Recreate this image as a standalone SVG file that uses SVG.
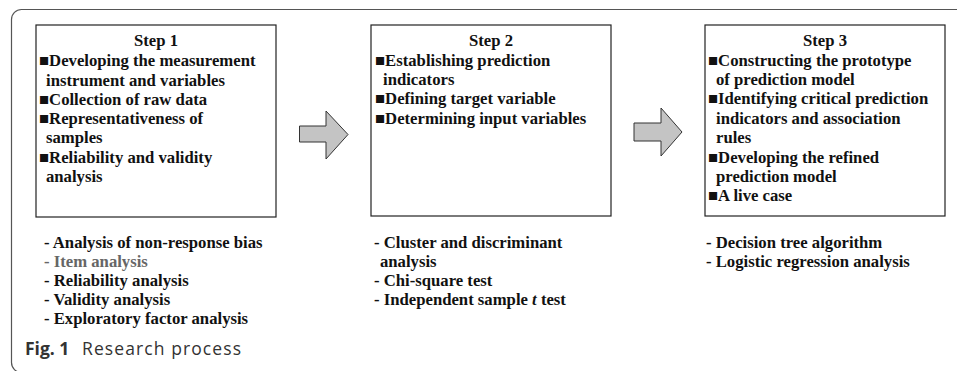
<svg xmlns="http://www.w3.org/2000/svg" width="957" height="371" viewBox="0 0 957 371">
<style>
.t{font-family:"Liberation Serif","Times New Roman",serif;font-weight:bold;font-size:16.7px;fill:#111}
.c{text-anchor:middle}
.g{fill:#666}
.box{fill:#fff;stroke:#222;stroke-width:1.2}
.arr{fill:#c4c4c4;stroke:#333;stroke-width:1}
.cap{font-family:"Open Sans","Noto Sans",sans-serif;font-size:17.5px;fill:#333}
</style>
<rect width="957" height="371" fill="#fff"/>
<rect x="11.5" y="9.5" width="1000" height="363" rx="10" fill="none" stroke="#555" stroke-width="1.2"/>
<g id="connectors">
<path class="arr" d="M299.5,126 H326 V111 L348,134.5 L326,159 V142 H299.5 Z"/>
<path class="arr" d="M634,123 H661 V108 L682,132 L661,156 V141 H634 Z"/>
</g>
<g id="step1">
<rect class="box" x="36" y="25" width="240" height="192"/>
<text class="t c" x="156" y="46">Step 1</text>
<text class="t" x="39" y="66">■Developing the measurement</text>
<text class="t" x="46" y="86">instrument and variables</text>
<text class="t" x="39" y="105">■Collection of raw data</text>
<text class="t" x="39" y="124">■Representativeness of</text>
<text class="t" x="46" y="143">samples</text>
<text class="t" x="39" y="163">■Reliability and validity</text>
<text class="t" x="46" y="182">analysis</text>
</g>
<g id="step1-methods">
<text class="t" x="44" y="248">- Analysis of non-response bias</text>
<text class="t g" x="44" y="267">- Item analysis</text>
<text class="t" x="44" y="286">- Reliability analysis</text>
<text class="t" x="44" y="305">- Validity analysis</text>
<text class="t" x="44" y="324">- Exploratory factor analysis</text>
</g>
<g id="step2">
<rect class="box" x="371" y="25" width="240" height="191"/>
<text class="t c" x="491" y="46">Step 2</text>
<text class="t" x="375" y="66">■Establishing prediction</text>
<text class="t" x="383" y="85">indicators</text>
<text class="t" x="375" y="104">■Defining target variable</text>
<text class="t" x="375" y="124">■Determining input variables</text>
</g>
<g id="step2-methods">
<text class="t" x="374" y="248">- Cluster and discriminant</text>
<text class="t" x="380" y="267">analysis</text>
<text class="t" x="374" y="286">- Chi-square test</text>
<text class="t" x="374" y="305">- Independent sample <tspan font-style="italic">t</tspan> test</text>
</g>
<g id="step3">
<rect class="box" x="705" y="25" width="240" height="191"/>
<text class="t c" x="825" y="46">Step 3</text>
<text class="t" x="708" y="66">■Constructing the prototype</text>
<text class="t" x="716" y="85">of prediction model</text>
<text class="t" x="708" y="104">■Identifying critical prediction</text>
<text class="t" x="716" y="124">indicators and association</text>
<text class="t" x="716" y="143">rules</text>
<text class="t" x="708" y="163">■Developing the refined</text>
<text class="t" x="716" y="182">prediction model</text>
<text class="t" x="708" y="201">■A live case</text>
</g>
<g id="step3-methods">
<text class="t" x="706" y="248">- Decision tree algorithm</text>
<text class="t" x="706" y="267">- Logistic regression analysis</text>
</g>
<g id="caption">
<text class="cap" x="25" y="355" font-weight="bold">Fig. 1</text>
<text class="cap" x="82" y="355" font-size="19" textLength="159">Research process</text>
</g>
</svg>
